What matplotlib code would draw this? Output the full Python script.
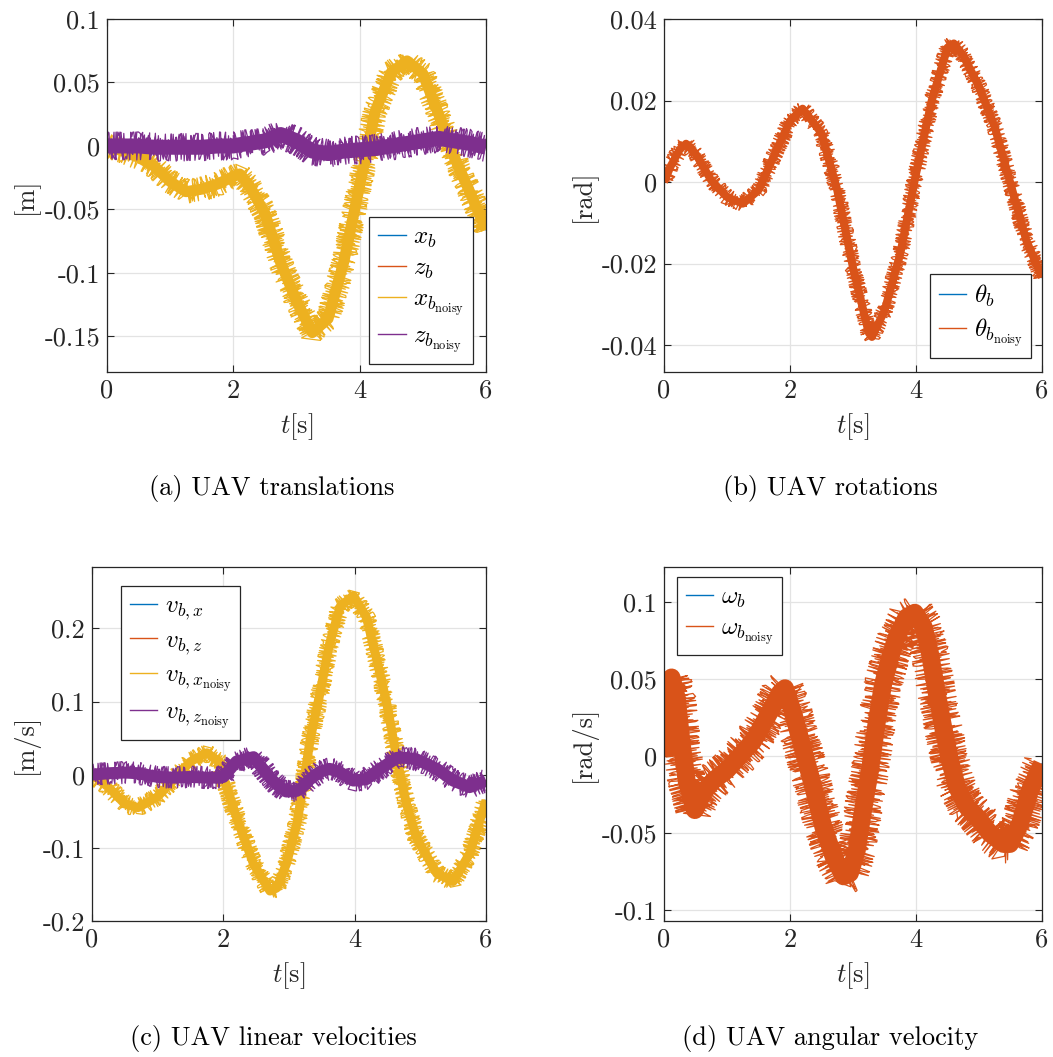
import numpy as np
import matplotlib
matplotlib.use("Agg")
import matplotlib.pyplot as plt
from matplotlib.lines import Line2D

plt.rcParams["font.family"] = "serif"
plt.rcParams["font.serif"] = ["cmr10"]
plt.rcParams["mathtext.fontset"] = "cm"
plt.rcParams["axes.unicode_minus"] = False
plt.rcParams["axes.formatter.use_mathtext"] = True

# MATLAB default line colours
c_blue = "#0072BD"
c_orange = "#D95319"
c_yellow = "#EDB120"
c_purple = "#7E2F8E"

# (a) translations
t_a = [0, 0.25, 0.5, 0.75, 1.0, 1.25, 1.5, 1.75, 2.0, 2.1, 2.25, 2.5, 2.75, 3.0,
       3.25, 3.5, 3.75, 4.0, 4.25, 4.5, 4.75, 5.0, 5.25, 5.5, 5.75, 6.0]
x_b = [0, -0.004, -0.009, -0.016, -0.028, -0.036, -0.034, -0.030, -0.024, -0.022,
       -0.031, -0.053, -0.092, -0.122, -0.147, -0.136, -0.091, -0.031, 0.028, 0.058,
       0.067, 0.057, 0.025, -0.009, -0.037, -0.066]
z_b = [0, 0, 0, -0.001, -0.001, -0.001, -0.001, 0, 0, 0.001, 0.002, 0.004, 0.009,
       0.004, -0.004, -0.006, -0.004, -0.003, -0.002, 0, 0.002, 0.004, 0.006, 0.004,
       0.002, -0.001]

# (b) rotations
t_b = [0, 0.1, 0.25, 0.35, 0.5, 0.75, 1.0, 1.25, 1.5, 1.75, 2.0, 2.2, 2.5, 2.75,
       3.0, 3.25, 3.3, 3.5, 3.75, 4.0, 4.25, 4.5, 4.6, 4.75, 5.0, 5.25, 5.5, 5.75, 6.0]
theta_b = [0, 0.0037, 0.008, 0.0094, 0.007, 0.0004, -0.0037, -0.0053, -0.002, 0.0066,
           0.015, 0.018, 0.012, -0.002, -0.021, -0.037, -0.038, -0.0316, -0.0176,
           0.002, 0.020, 0.033, 0.034, 0.031, 0.0234, 0.0135, -0.0004, -0.0143, -0.0234]

# (c) linear velocities
t_c = [0, 0.25, 0.5, 0.7, 1.0, 1.25, 1.5, 1.75, 1.95, 2.0, 2.2, 2.46, 2.71, 2.81,
       2.96, 3.12, 3.22, 3.32, 3.47, 3.62, 3.78, 3.98, 4.18, 4.34, 4.49, 4.64, 4.79,
       4.94, 5.25, 5.5, 5.75, 6.0]
v_bx = [0, -0.017, -0.040, -0.045, -0.030, -0.006, 0.018, 0.030, 0.017, -0.002,
        -0.058, -0.122, -0.159, -0.155, -0.122, -0.067, -0.013, 0.047, 0.111, 0.180,
        0.230, 0.245, 0.215, 0.156, 0.097, 0.023, -0.040, -0.086, -0.135, -0.146,
        -0.108, -0.035]
v_bz = [0, 0.002, 0.003, 0.002, -0.003, -0.004, -0.003, -0.004, -0.004, -0.003,
        0.018, 0.024, -0.004, -0.013, -0.023, -0.022, -0.016, -0.006, 0.004, 0.008,
        0.003, -0.008, -0.006, 0.005, 0.014, 0.023, 0.023, 0.021, 0.008, -0.008,
        -0.017, -0.008]

# (d) angular velocity
t_d = [0, 0.07, 0.12, 0.2, 0.28, 0.36, 0.49, 0.62, 0.78, 1.0, 1.2, 1.42, 1.63, 1.84,
       1.92, 2.05, 2.21, 2.37, 2.53, 2.69, 2.85, 2.95, 3.06, 3.16, 3.27, 3.38, 3.48,
       3.59, 3.69, 3.85, 3.98, 4.12, 4.22, 4.33, 4.43, 4.54, 4.65, 4.81, 4.96, 5.17,
       5.39, 5.49, 5.65, 5.81, 6.0]
omega_b = [0, 0.047, 0.051, 0.038, 0.008, -0.016, -0.035, -0.024, -0.016, -0.009,
           0.0, 0.010, 0.025, 0.041, 0.044, 0.028, 0.004, -0.020, -0.046, -0.065,
           -0.078, -0.076, -0.061, -0.035, -0.009, 0.023, 0.047, 0.064, 0.077, 0.090,
           0.093, 0.084, 0.067, 0.041, 0.019, -0.003, -0.020, -0.033, -0.039, -0.050,
           -0.057, -0.057, -0.044, -0.022, -0.005]

x_ticks = [0, 2, 4, 6]
yticks_a = [-0.15, -0.1, -0.05, 0, 0.05, 0.1]
yticks_b = [-0.04, -0.02, 0, 0.02, 0.04]
yticks_c = [-0.2, -0.1, 0, 0.1, 0.2]
yticks_d = [-0.1, -0.05, 0, 0.05, 0.1]

captions = ["(a) UAV translations", "(b) UAV rotations",
            "(c) UAV linear velocities", "(d) UAV angular velocity"]

W, H = 1053, 1057
fig = plt.figure(figsize=(W / 100, H / 100), dpi=100)
FS = 19


def px_rect(l, t, r, b):
    return [l / W, 1 - b / H, (r - l) / W, (b - t) / H]


def style_axes(ax, ylim, yticks, ylabel):
    ax.set_xlim(0, 6)
    ax.set_ylim(*ylim)
    ax.set_xticks(x_ticks)
    ax.set_yticks(yticks)
    ax.set_xticklabels(["%g" % v for v in x_ticks])
    ax.set_yticklabels(["%g" % v for v in yticks])
    ax.tick_params(direction="in", top=True, right=True, length=5, width=0.8,
                   labelsize=FS, colors="#262626", pad=5)
    ax.grid(True, color="#e3e3e3", lw=0.9)
    ax.set_axisbelow(True)
    for s in ax.spines.values():
        s.set_color("#262626")
        s.set_linewidth(0.9)
    ax.set_xlabel(r"$t$[s]", fontsize=FS, color="#262626", labelpad=6)
    ax.set_ylabel(ylabel, fontsize=FS, color="#262626")


def noisy(ax, t, y, color, core_px, amp_px):
    # solid core plus render-time sketch jitter for the noise spikes
    ax.plot(t, y, color=color, lw=core_px * 0.72, solid_capstyle="butt")
    for length, rnd in [(0.37, 3.0), (0.53, 2.5)]:
        line, = ax.plot(t, y, color=color, lw=0.9)
        line.set_sketch_params(scale=float(amp_px), length=length, randomness=rnd)


def legend(ax, colors, labels, loc, anchor):
    handles = [Line2D([], [], color=c, lw=1.0) for c in colors]
    leg = ax.legend(handles, labels, loc=loc, bbox_to_anchor=(anchor[0] / W, 1 - anchor[1] / H),
                    bbox_transform=fig.transFigure, borderaxespad=0, fancybox=False,
                    framealpha=1, edgecolor="#262626", fontsize=18, handlelength=1.1,
                    handletextpad=0.3, labelspacing=0.3, borderpad=0.35)
    leg.get_frame().set_linewidth(0.9)


# (a)
ax1 = fig.add_axes(px_rect(107, 19, 486, 372))
ax1.plot(t_a, x_b, color=c_blue, lw=1.0)
ax1.plot(t_a, z_b, color=c_orange, lw=1.0)
noisy(ax1, t_a, x_b, c_yellow, 11, 12)
noisy(ax1, t_a, z_b, c_purple, 15, 14)
style_axes(ax1, (-0.178, 0.1), yticks_a, "[m]")
legend(ax1, [c_blue, c_orange, c_yellow, c_purple],
       [r"$x_b$", r"$z_b$", r"$x_{b_{\mathrm{noisy}}}$", r"$z_{b_{\mathrm{noisy}}}$"],
       "lower right", (473, 364))

# (b)
ax2 = fig.add_axes(px_rect(664, 19, 1042, 372))
ax2.plot(t_b, theta_b, color=c_blue, lw=1.0)
noisy(ax2, t_b, theta_b, c_orange, 8, 8)
style_axes(ax2, (-0.0466, 0.04), yticks_b, "[rad]")
legend(ax2, [c_blue, c_orange], [r"$\theta_b$", r"$\theta_{b_{\mathrm{noisy}}}$"],
       "lower right", (1031, 358))

# (c)
ax3 = fig.add_axes(px_rect(92, 567, 486, 921))
ax3.plot(t_c, v_bx, color=c_blue, lw=1.0)
ax3.plot(t_c, v_bz, color=c_orange, lw=1.0)
noisy(ax3, t_c, v_bx, c_yellow, 9, 9)
noisy(ax3, t_c, v_bz, c_purple, 12, 11)
style_axes(ax3, (-0.2, 0.284), yticks_c, "[m/s]")
legend(ax3, [c_blue, c_orange, c_yellow, c_purple],
       [r"$v_{b,x}$", r"$v_{b,z}$", r"$v_{b,x_{\mathrm{noisy}}}$", r"$v_{b,z_{\mathrm{noisy}}}$"],
       "upper left", (121, 586))

# (d)
ax4 = fig.add_axes(px_rect(664, 567, 1042, 921))
ax4.plot(t_d, omega_b, color=c_blue, lw=1.0)
noisy(ax4, t_d, omega_b, c_orange, 18, 19)
style_axes(ax4, (-0.107, 0.1227), yticks_d, "[rad/s]")
legend(ax4, [c_blue, c_orange], [r"$\omega_b$", r"$\omega_{b_{\mathrm{noisy}}}$"],
       "upper left", (677, 577))

ax1.yaxis.set_label_coords(-(107 - 25) / 379, 0.5)
ax2.yaxis.set_label_coords(-(664 - 583) / 378, 0.5)
ax3.yaxis.set_label_coords(-(92 - 25) / 394, 0.5)
ax4.yaxis.set_label_coords(-(664 - 583) / 378, 0.5)
for ax in (ax1, ax2, ax3, ax4):
    ax.yaxis.label.set_verticalalignment("center")

fig.text(272 / W, 1 - 489 / H, captions[0], ha="center", va="center", fontsize=FS)
fig.text(830 / W, 1 - 489 / H, captions[1], ha="center", va="center", fontsize=FS)
fig.text(273 / W, 1 - 1038 / H, captions[2], ha="center", va="center", fontsize=FS)
fig.text(830 / W, 1 - 1038 / H, captions[3], ha="center", va="center", fontsize=FS)

fig.savefig("out.png", dpi=100)
